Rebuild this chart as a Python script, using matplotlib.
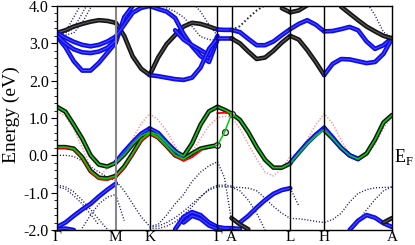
import numpy as np
import matplotlib
matplotlib.use("Agg")
import matplotlib.pyplot as plt
from matplotlib.ticker import MultipleLocator, FixedLocator

nan = np.nan

# hexagonal k-path, c/a ratio and sampling per segment
kpath_labels = ["Γ", "M", "K", "Γ", "A", "L", "H", "A"]
c_over_a = 3.63
seg_points = [7, 4, 8, 2, 7, 4, 8]

ytick_values = [-2.0, -1.0, 0.0, 1.0, 2.0, 3.0, 4.0]
ytick_labels = ["-2.0", "-1.0", "0.0", "1.0", "2.0", "3.0", "4.0"]

# ---- bands near E_F (eV), segments: G-M | M-K | K-G | G-A | A-L | L-H | H-A
F1 = [1.30, 1.17, 0.82, 0.45, 0.00, -0.25, -0.30, -0.20,
      0.02, 0.30, 0.52, 0.63,
      0.55, 0.32, 0.10, -0.02, 0.32, 0.82, 1.18, 1.30,
      1.22, 1.12,
      0.95, 0.62, 0.22, -0.12, -0.33, -0.33, -0.22,
      0.05, 0.30, 0.52, 0.68,
      0.45, 0.20, 0.00, -0.10, 0.05, 0.42, 0.88, 1.08]
F2 = [0.22, 0.22, 0.18, -0.05, -0.42, -0.60, -0.62, -0.55,
      -0.30, 0.05, 0.42, 0.60,
      0.48, 0.25, 0.00, -0.10, 0.05, 0.18, 0.23, 0.27,
      0.62, 1.10] + [nan] * 19
F3 = [nan] * 7 + [-0.18,
      0.10, 0.35, 0.58, 0.72,
      0.60, 0.35, 0.12, -0.10, nan, nan, nan, nan,
      nan, nan,
      nan, nan, nan, nan, nan, nan, -0.20,
      0.07, 0.33, 0.55, 0.74,
      0.48, 0.20, 0.00, -0.10, nan, nan, nan, nan]
R1 = [0.20, 0.20, 0.16, -0.08, -0.45, -0.64, -0.66, -0.58,
      -0.33, 0.02, 0.38, 0.56,
      0.45, 0.22, -0.02, -0.15, -0.05, 0.12, nan, 1.13,
      1.14, 1.12] + [nan] * 19
P1 = [1.18, 1.05, 0.70, 0.20, -0.30, -0.57, -0.35, -0.15,
      -0.02, 0.45, 0.85, 1.12,
      0.95, 0.65, 0.25, -0.05, 0.10, 0.45, 0.80, 1.00,
      1.05, 1.03,
      0.72, 0.30, -0.10, -0.45, -0.55, -0.35, -0.02,
      0.05, 0.42, 0.82, 1.12,
      0.85, 0.40, 0.05, -0.04, 0.00, 0.30, 0.72, 1.05]

# ---- conduction bands
UA = [3.18, 2.90, 2.52, 2.27, 2.27, 2.48, 2.75, 3.02,
      3.70, 4.00] + [nan] * 31
UB = [3.28, 3.15, 3.04, 2.96, 2.92, 2.96, 3.05, 3.18,
      3.50, 3.82, 3.95, 4.00,
      3.92, 3.85, 3.68, 3.25, 2.92, 2.66, 2.50, 3.10] + [nan] * 21
UC = [3.22, 3.00, 2.84, 2.76, 2.74, 2.78, 2.88, 3.08,
      nan, nan, nan, nan,
      nan, nan, 3.35, 3.10, 2.95, 2.82, 2.68, 3.20] + [nan] * 21
U1 = [nan] * 11 + [2.15,
      2.12, 2.08, 2.04, 2.02, 2.08, 2.35, 2.85, 3.13,
      3.13, 3.13,
      3.00, 2.78, 2.58, 2.62, 2.80, 3.02, 3.20,
      3.10, 2.82, 2.50, 2.15,
      2.45, 2.58, 2.57, 2.52, 2.47, 2.50, 2.72, 3.13]
UD = [3.28, 3.35, 3.45, 3.52, 3.58, 3.62, 3.60, 3.55,
      3.20, 2.65, 2.32, 2.15,
      2.62, 2.98, 3.22, 3.45, 3.55, 3.52, 3.45, 3.37,
      3.36, 3.36,
      3.30, 3.12, 2.95, 2.95, 3.05, 3.22, 3.38,
      3.52, 3.62, 3.50, 3.32,
      3.33, 3.38, 3.44, 3.35, 3.05, 2.85, 2.95, 3.15]
U3 = [nan] * 34 + [3.98, 3.80, 3.62, 3.45, 3.32, 3.20, 3.13]
UK = [nan] * 27 + [3.94, 3.83, 3.88, 4.02] + [nan] * 10

# thin bands above 3 eV
TA = [3.25, 3.30, 3.70, 4.10] + [nan] * 37
TB = [3.25, 3.28, 3.40, 3.80, 4.20] + [nan] * 36
TC = [nan, 3.22, 3.28, 3.55, 3.95, 4.20] + [nan] * 35
TD = [nan] * 12 + [4.05, 3.95, 3.85, 3.70, 3.45, 3.18, 3.10, 3.08] + [nan] * 21
TE = [nan] * 16 + [4.10, 3.85, 3.50, 3.20] + [nan] * 21
TF = [nan] * 21 + [3.36, 3.46, 3.68, 3.88, 4.02] + [nan] * 15
TI = [nan] * 37 + [4.10, 3.75, 3.30, 3.15]

# ---- valence bands
D1 = [0.00, 0.00, -0.03, -0.15, -0.30, -0.45, -0.58, -0.68,
      -0.95, -1.30, -1.65, -1.90,
      -1.85, -1.60, -1.30, -1.05, -0.70, -0.45, -0.28, -0.17,
      -0.60, -1.75] + [nan] * 19
D2 = [-0.84, -0.90, -1.08, -1.30, -1.58, -1.87] + [nan] * 35
D2b = [-0.80, -0.84, -0.98, -1.20, -1.45, -1.72, -1.98] + [nan] * 34
D3 = [nan, nan, nan, -1.95, -1.60, -1.30, -1.12, -1.05,
      -1.75] + [nan] * 32
D4 = [nan] * 11 + [-1.92,
      -1.90, -1.80, -1.67, -1.50, -1.30, -1.10, -0.93, -0.84,
      -0.84, -0.85,
      -0.86, -0.88, -0.95, -1.15, -1.37, -1.55, -1.69,
      -1.70, -1.73, -1.77, -1.80,
      -1.72, -1.55, -1.25, -1.02, -0.92, -0.87, -0.86, -0.85]
D4b = [nan] * 11 + [-1.95,
       -1.96, -1.90, -1.78, -1.60, -1.38, -1.12, -0.90, -0.80,
       -0.80, -0.82] + [nan] * 19
D5 = [nan] * 28 + [-0.88, -1.35] + [nan] * 11
D6 = [nan] * 21 + [-0.85, -0.95, -1.20, -1.55, -2.00] + [nan] * 15
D7 = [nan] * 35 + [-2.05, -1.75, -1.46, -1.18, -0.95, -0.84]

B1 = [-1.92, -1.80, -1.62, -1.45, -1.30, -1.10, -0.92, -0.76] + [nan] * 33
B2 = [nan] * 22 + [-1.80, -1.62, -1.40, -1.20, -1.03, -0.93, -0.88] + [nan] * 12
B3 = [-1.98, -1.96, -2.00] + [nan] * 38
B5 = [nan] * 14 + [-1.98, -1.65, -1.52, -1.60, -1.80, -1.92,
                   -1.95, -1.95, -1.97] + [nan] * 18
B5b = [nan] * 15 + [-1.80, -1.62, -1.70, -1.88, -1.97] + [nan] * 21
B6 = [nan] * 35 + [-2.00, -1.75, -1.60, -1.67, -1.82, -1.92]
K1 = [nan] * 21 + [-1.68, -1.85, -1.98] + [nan] * 17
K2 = [nan] * 39 + [-1.80, -1.68]

# orbital character per segment: k = black projection, b = blue projection,
# o = weak black, - = not projected
fat_bands = [
    (UD, "kkkbbbb"), (UA, "bb-----"), (UB, "bbb----"), (UC, "b-b----"),
    (U1, "--bbkkb"), (U3, "------k"), (UK, "----kk-"),
    (B1, "b------"), (B3, "b------"), (B2, "----b--"), (B5, "--bbb--"),
    (B5b, "--b----"), (B6, "------b"), (K1, "---kk--"), (K2, "------k"),
    (F1, "kkkkk-k"), (F2, "kkko---"), (F3, "-bb--bb"),
]
thin_bands = [TA, TB, TC, TD, TE, TI, D1, D2, D2b, D3, D4, D4b, D5, D6, D7]
thick_dot_bands = [TF]

plt.rcParams["font.family"] = ["Liberation Serif", "DejaVu Serif"]
plt.rcParams["mathtext.fontset"] = "custom"
plt.rcParams["mathtext.rm"] = "Liberation Serif"

seg_len = [1 / np.sqrt(3), 1 / 3, 2 / 3, 0.5 / c_over_a, 1 / np.sqrt(3), 1 / 3, 2 / 3]
kx = [0.0]
for L, n in zip(seg_len, seg_points):
    kx.extend(kx[-1] + L * np.arange(1, n + 1) / n)
kx = np.array(kx)
knodes = np.concatenate([[0.0], np.cumsum(seg_len)])
node_idx = np.concatenate([[0], np.cumsum(seg_points)])

FAT = {"k": ("#161616", "#5a5a5a"), "b": ("#0c0cee", "#4a4aff")}


def draw_fat(ax, e, proj, lw=3.3):
    e = np.asarray(e, float)
    for s, c in enumerate(proj):
        if c == "-":
            continue
        i0, i1 = node_idx[s], node_idx[s + 1]
        ks, es = kx[i0:i1 + 1], e[i0:i1 + 1]
        if c == "o":
            ax.plot(ks, es, "o", ms=4.2, mfc="white", mec="#222222", mew=0.9, zorder=4)
            continue
        outer, inner = FAT[c]
        ax.plot(ks, es, color=outer, lw=lw, solid_capstyle="round",
                solid_joinstyle="round", zorder=3)
        ax.plot(ks, es, color=inner, lw=lw * 0.25, zorder=3)


fig = plt.figure(figsize=(4.15, 2.45), dpi=100)
ax = fig.add_axes([57 / 415, 15 / 245, 335 / 415, 224 / 245])

for e in thin_bands:
    ax.plot(kx, e, color="#1e1e6e", lw=1.0, ls=(0, (0.8, 1.3)), zorder=2)
for e in thick_dot_bands:
    ax.plot(kx, e, color="#1e1e3e", lw=1.4, ls=(0, (0.8, 1.2)), zorder=2)
ax.plot(kx, P1, color="#ff8c8c", lw=1.1, ls=(0, (0.8, 1.2)), zorder=2)

for e, proj in fat_bands:
    draw_fat(ax, e, proj)

ax.plot(kx, R1, color="#ff0000", lw=1.3, zorder=5)
ax.plot(kx, F1, color="#00d000", lw=1.1, zorder=6)
ax.plot(kx, F2, color="#00d000", lw=1.1, zorder=6)

for i, kn in enumerate(knodes[1:-1], start=1):
    col = "#888888" if kpath_labels[i] == "M" else "black"
    ax.axvline(kn, color=col, lw=1.5 if col != "black" else 1.0, zorder=7)

ax.set_xlim(knodes[0], knodes[-1])
ax.set_ylim(-2.0, 4.0)
ax.xaxis.set_major_locator(FixedLocator(knodes))
ax.set_xticklabels(kpath_labels, fontsize=11)
ax.tick_params(axis="x", length=0, pad=0.5)
ax.yaxis.set_major_locator(FixedLocator(ytick_values))
ax.set_yticklabels(ytick_labels, fontsize=11.5)
ax.yaxis.set_minor_locator(MultipleLocator(0.2))
ax.tick_params(axis="y", which="major", direction="out", length=4, width=0.8, pad=2)
ax.tick_params(axis="y", which="minor", direction="out", length=2.5, width=0.6)
for sp in ax.spines.values():
    sp.set_linewidth(1.0)
    sp.set_zorder(8)

fig.text(11 / 415, 1 - 115 / 245, "Energy (eV)", rotation=90, ha="center",
         va="center", fontsize=14)
ax.text(1.006, -0.05, r"E$_{\rm F}$", transform=ax.get_yaxis_transform(),
        ha="left", va="center", fontsize=13, clip_on=False)

fig.savefig("out.png", dpi=100)
